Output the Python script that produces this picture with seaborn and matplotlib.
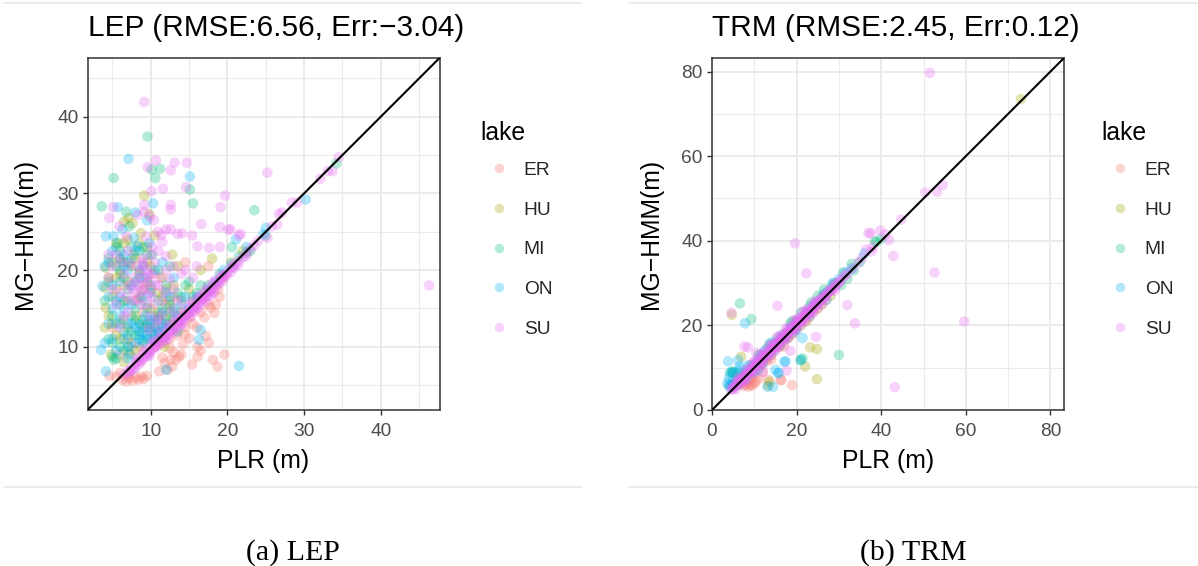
import numpy as np
import pandas as pd
import matplotlib
matplotlib.use("Agg")
import matplotlib.pyplot as plt
from matplotlib.lines import Line2D
import seaborn as sns

LAKES = ["ER", "HU", "MI", "ON", "SU"]
COLORS = ["#F8766D", "#A3A500", "#00BF7D", "#00B0F6", "#E76BF3"]

TITLE_LEP = "LEP (RMSE:6.56, Err:\u22123.04)"
TITLE_TRM = "TRM (RMSE:2.45, Err:0.12)"
CAPTIONS = ["(a) LEP", "(b) TRM"]
XLABEL = "PLR (m)"
YLABEL = "MG\u2212HMM(m)"
LEGEND_TITLE = "lake"

LEP_LIM = (1.75, 47.65)
TRM_LIM = (0.0, 83.2)
LEP_TICKS = [10, 20, 30, 40]
LEP_MINOR = [5, 15, 25, 35, 45]
TRM_TICKS = [0, 20, 40, 60, 80]
TRM_MINOR = [10, 30, 50, 70]

# ---------------- LEP panel (PLR, MG-HMM) ----------------
LEP_ER = [(6.3,5.7),(6.8,5.5),(7.2,5.9),(7.6,5.6),(8.0,6.0),(8.4,5.7),(8.8,6.1),(9.1,5.8),(7.0,6.3),(9.5,6.2),
          (5.5,6.1),(4.6,6.2),(6.0,6.6),(11.1,6.8),(12.2,7.0),(12.8,7.4),(13.3,8.3),(13.7,8.7),(12.6,8.3),(11.8,7.9),
          (11.5,8.6),(14.0,9.0),(13.0,9.3),(15.4,7.7),(16.1,8.7),(16.1,10.0),(17.6,10.5),(18.1,8.3),(18.7,7.4),(19.6,9.0),
          (17.2,11.4),(14.4,11.6),(15.0,11.1),(18.5,15.5),(17.8,15.1),(18.3,14.4),(16.0,12.5),(15.5,13.0),(17.0,13.8),
          (14.2,10.3),(12.5,9.8),(19.0,16.5),(18.8,17.5),(16.5,9.5),(5.0,12.5),(8.0,16.0),(10.5,19.5),(7.2,9.2),
          (12.0,15.5),(9.5,13.0),(6.5,18.0),(14.5,21.0),(17.5,20.5),
          (7.5,10.5),(9.0,14.5),(11.0,14.0),(13.0,16.5),(10.0,17.5),(6.0,9.0),(8.5,10.0),(12.5,13.0),(15.5,16.0),
          (17.0,17.0),(19.5,19.0),(14.0,16.0),(10.5,10.0),(11.5,10.5),(12.5,11.0),(13.5,11.5),(14.5,12.5),(15.0,13.8),
          (16.5,14.5),(17.5,15.5)]
LEP_HU = [(4.1,20.3),(4.0,17.7),(4.1,15.1),(4.5,14.0),(5.0,16.5),(5.5,19.0),(6.0,21.5),(6.5,26.3),(7.1,26.8),(9.15,29.7),
          (7.8,22.0),(8.5,19.5),(9.5,21.0),(10.0,20.5),(10.8,17.0),(11.5,19.0),(12.0,13.5),(9.0,12.5),(7.0,11.0),(5.5,11.5),
          (6.3,13.5),(8.7,24.8),(7.6,26.1),(12.5,16.0),(13.5,20.5),(15.0,17.5),(14.0,14.5),(11.0,11.0),(8.0,9.5),(6.5,8.0),
          (16.5,20.0),(18.0,21.5),(9.8,27.3),(10.5,24.5),(12.8,22.0),(4.8,9.0),(11.8,10.0),(20.5,21.0),(22.0,22.5),
          (4.5,19.0),(5.0,21.0),(5.5,17.5),(6.0,19.5),(6.5,16.0),(7.0,18.5),(7.5,20.5),(8.0,14.0),(8.5,16.5),(9.0,17.5),
          (9.5,18.5),(10.0,15.0),(10.5,12.5),(11.0,14.5),(11.5,16.5),(12.0,17.5),(6.0,11.0),(7.0,12.5),(5.0,13.0),
          (4.0,12.5),(8.0,21.5),(9.5,23.0),(6.5,23.5),(12.5,14.5),(13.0,18.0),
          (5.5,23.5),(7.0,24.0),(8.5,23.5),(6.5,21.0)]
LEP_MI = [(9.58,37.4),(10.1,33.1),(11.2,33.2),(10.6,32.0),(5.15,32.0),(3.6,28.3),(6.8,27.6),(15.1,30.5),(15.5,28.7),
          (23.5,27.8),(20.6,23.0),(34.2,33.9),(7.2,25.7),(5.7,23.5),(5.0,8.7),(5.2,8.3),(6.0,10.0),(6.5,12.0),(7.5,14.0),
          (8.0,11.5),(8.5,13.0),(9.0,10.5),(9.5,15.0),(10.0,12.0),(10.5,14.0),(11.0,16.0),(11.5,12.5),(12.0,18.0),
          (13.0,15.0),(7.0,17.5),(6.0,15.5),(5.0,14.0),(4.5,11.0),(8.5,20.0),(9.0,23.0),(12.5,20.5),(14.5,18.0),
          (15.5,16.5),(13.5,12.0),(16.0,17.0),(17.5,18.0),(19.0,19.5),(21.5,21.8),(22.5,22.3),(23.0,22.5),(25.0,24.5),
          (10.2,22.0),(8.0,18.5),(7.3,9.0),
          (4.0,16.0),(4.5,18.5),(5.5,20.5),(6.0,22.5),(6.5,19.0),(7.0,16.0),(7.5,12.0),(8.0,13.5),(8.5,11.5),(9.0,13.5),
          (9.5,11.0),(10.0,13.0),(10.5,11.5),(11.0,13.5),(11.5,15.0),(12.0,14.0),(12.5,15.5),(13.0,13.5),(14.0,16.5),
          (5.0,10.5),(6.0,13.0),(7.0,10.0),(8.0,15.0),(9.0,16.0),(10.0,18.0),(11.0,20.0),(6.5,9.5),(5.5,8.5),(9.5,22.0),
          (7.5,23.0),(13.5,17.0),(15.0,18.5),(16.5,18.0),
          (4.5,21.5),(5.5,23.0),(7.0,21.0),(8.5,22.5),(6.0,20.0)]
LEP_ON = [(7.1,34.5),(15.1,32.2),(4.15,24.4),(5.15,24.4),(3.7,17.9),(3.5,9.6),(4.15,6.8),(21.5,7.5),(12.0,7.0),
          (16.5,12.2),(16.3,10.9),(30.2,29.2),(21.1,24.0),(25.0,25.5),(24.7,24.7),(6.3,25.3),(7.8,24.2),(9.8,23.5),
          (8.3,23.1),(10.3,28.7),(5.7,28.2),(5.0,18.0),(5.5,16.0),(6.0,14.0),(6.5,11.0),(7.0,13.0),(7.5,15.5),(8.0,12.5),
          (8.5,11.0),(9.0,11.8),(9.5,12.5),(10.0,11.0),(10.5,13.5),(11.0,12.0),(11.5,14.5),(12.0,13.0),(8.8,16.5),
          (9.3,19.0),(7.0,20.0),(6.0,21.5),(4.5,13.0),(5.5,9.5),(7.2,10.0),(10.0,17.0),(12.5,16.5),(13.5,14.0),
          (14.0,15.5),(15.0,15.0),(16.0,16.5),(17.5,17.5),(18.5,18.5),(11.5,21.0),(13.0,19.0),(19.5,20.0),(20.5,20.8),
          (22.5,23.0),(8.0,27.5),(9.5,26.5),
          (4.0,20.5),(4.5,16.5),(5.0,15.0),(5.5,13.0),(6.0,18.5),(6.5,15.0),(7.0,11.5),(7.5,13.0),(8.0,10.5),(8.5,12.0),
          (9.0,10.8),(9.5,11.5),(10.0,12.5),(10.5,11.0),(11.0,11.8),(11.5,13.0),(12.0,12.5),(9.8,13.5),(10.8,12.2),
          (8.7,12.8),(9.3,14.0),(6.0,16.5),(7.5,18.0),(8.5,19.0),(5.0,11.0),(4.0,10.5),(7.0,8.5),(13.0,14.5),(14.5,16.5),
          (12.0,17.0),(10.5,20.0),(8.0,22.5),(6.5,22.0),
          (5.0,22.5),(6.5,20.5),(7.5,21.5),(9.0,20.5),(4.5,21.0)]
LEP_SU = [(9.15,41.9),(10.67,34.3),(9.6,33.4),(13.1,34.0),(14.7,34.0),(12.6,33.0),(11.6,30.6),(10.1,30.3),(14.6,30.8),
          (19.7,29.7),(19.1,28.2),(25.2,32.7),(5.1,28.2),(4.6,26.8),(9.15,28.5),(9.15,27.6),(12.6,28.5),(12.6,27.9),
          (8.3,27.2),(16.6,26.0),(19.0,25.6),(20.1,25.3),(21.5,24.5),(13.5,24.7),(14.1,24.8),(15.4,24.5),(12.0,25.3),
          (11.4,24.6),(12.6,25.3),(16.1,23.1),(17.6,22.9),(19.0,23.0),(5.9,25.7),(6.8,24.4),(9.4,24.4),(10.9,25.0),
          (11.5,23.7),(10.2,23.1),(46.3,18.0),(34.5,34.7),(33.7,32.9),(33.1,32.9),(32.1,31.9),(28.4,28.8),(29.1,28.8),
          (27.1,27.5),(26.7,27.3),(26.5,25.95),(25.8,25.7),(25.2,24.2),(21.7,24.7),(20.4,25.3),(10.4,26.5),(9.9,27.0),
          (8.0,17.0),(8.5,18.0),(9.0,19.0),(9.5,20.0),(8.2,20.5),(9.2,17.5),(9.8,18.5),(10.2,16.5),(8.7,15.5),(7.8,19.0),
          (10.5,21.0),(9.0,21.5),(7.5,16.0),(11.0,18.0),(11.5,16.0),(12.0,20.0),(6.5,19.5),(6.0,17.0),(5.5,22.0),
          (7.0,22.5),(13.0,17.5),(14.0,19.5),(10.0,14.0),(11.0,13.5),(7.0,14.5),(6.0,12.5),(5.0,20.5),(4.5,22.0),
          (6.5,6.3),(7.0,6.8),(7.5,7.2),(8.0,7.8),(8.5,8.2),(9.0,8.6),(9.5,9.2),(10.0,9.6),(10.5,10.1),(11.0,10.5),
          (11.5,11.1),(12.0,11.6),(12.5,12.0),(13.0,12.5),(13.5,13.1),(14.0,13.5),(14.5,14.0),(15.0,14.6),(15.5,15.0),
          (16.0,15.6),(16.5,16.0),(17.0,16.6),(17.5,17.1),(18.0,17.6),(18.5,18.1),(19.0,18.7),(19.5,19.2),(20.0,19.8),
          (20.5,20.3),(21.0,20.8),(22.0,21.7),(23.0,22.8),(24.0,23.8),(8.3,8.6),(9.3,9.7),(10.3,10.8),(11.3,11.8),
          (12.3,12.8),(13.3,13.8),(14.3,14.8),(15.3,15.8),(16.3,16.7),(17.3,17.7),(18.3,18.6),(7.8,7.0),(9.8,8.8),
          (11.8,10.8),(13.8,12.7),(15.8,14.6),(17.8,16.7),
          (8.3,16.2),(8.8,17.2),(9.3,18.2),(9.7,19.3),(8.6,19.8),(9.1,20.6),(8.1,18.3),(9.6,16.8),(10.1,19.5),(10.6,18.0),
          (7.6,17.5),(8.9,21.0),(9.4,15.5),(10.4,15.5),(7.2,18.0),(6.8,16.5),(11.2,19.0),(11.8,17.2),(12.5,18.8),
          (13.5,16.0),(12.8,14.8),(11.5,14.2),(10.8,13.0),(9.8,12.2),(6.5,14.0),(5.5,15.5),(5.0,17.5),(4.5,19.0),
          (6.2,21.0),(7.3,20.8),(10.0,22.0),(11.0,22.5),(12.0,21.8),(13.0,20.5),(14.5,20.0),(15.5,19.0),(16.0,20.5),
          (7.3,6.9),(8.7,8.0),(9.7,9.0),(10.7,10.0),(11.7,11.3),(12.7,12.2),(13.7,13.2),(14.7,14.2),(15.7,15.2),
          (16.7,16.2),(17.7,17.3),(18.7,18.2),(19.7,19.4),(20.7,20.5),(21.5,21.2),(22.5,22.2),(23.5,23.2),(9.1,9.3),
          (10.1,10.4),(11.1,11.2),(12.1,12.3),(13.1,13.3),(14.1,14.2),(15.1,15.3),(16.1,16.3),(17.1,17.2),(18.1,18.3),
          (19.1,19.3),(12.2,11.0),(14.2,13.0),(16.2,15.0),(18.2,17.0),(13.2,11.9),(15.2,13.9),(17.2,15.9),
          (7.2,6.6),(7.9,7.3),(8.4,7.7),(8.9,8.3),(9.4,8.7),(9.9,9.3),(10.4,9.7),(10.9,10.2),(11.4,10.6),(11.9,11.2),
          (12.4,11.6),(12.9,12.2),(13.4,12.6),(13.9,13.2),(14.4,13.6),(14.9,14.2),(15.4,14.6),(15.9,15.2),(16.4,15.6),
          (16.9,16.2),(17.4,16.6),(17.9,17.2),(18.4,17.6),(18.9,18.2),(19.4,18.6),(19.9,19.3),(20.4,19.7),(20.9,20.3),
          (21.4,20.7),(22.4,21.8),(8.1,8.1),(10.6,10.6),(13.6,13.5),(16.6,16.5),(19.2,19.0)]

# ---------------- TRM panel (PLR, MG-HMM) ----------------
TRM_ER = [(8.6,5.5),(9.0,6.0),(9.5,5.8),(10.0,6.3),(8.0,6.0),(7.5,5.7),(10.5,6.8),(16.2,7.1),(18.9,5.9),(13.3,7.1),
          (16.4,7.1),(11.0,7.5),(12.0,9.0),(14.0,12.0),(9.0,7.5),(7.0,6.5),(15.0,14.5),(12.5,12.0),(18.0,17.5),
          (20.0,19.5),(6.5,6.0),(11.5,10.5),(5.5,5.8),(8.5,7.0),(10.0,8.0),(13.0,11.5),(16.0,15.5),(17.0,15.0)]
TRM_HU = [(73.0,73.5),(4.7,22.5),(23.2,14.8),(24.8,14.4),(22.0,10.3),(24.8,7.3),(13.6,6.7),(6.9,12.6),(13.3,5.8),
          (22.3,21.0),(25.0,24.0),(18.0,17.0),(15.0,15.5),(12.0,11.5),(10.0,10.5),(20.0,21.0),(27.0,27.5),(8.0,8.5),
          (17.0,16.5),(26.0,25.0),(14.0,13.0),(21.0,20.0),(9.0,8.5),(11.0,10.5),(13.0,12.5),(16.0,15.0),(19.0,18.0),
          (23.0,22.0),(24.0,23.5),(28.0,27.0),(6.0,7.0)]
TRM_MI = [(6.6,25.2),(9.3,21.5),(30.0,13.0),(20.9,11.8),(21.4,12.2),(4.2,8.7),(4.8,9.0),(38.5,39.8),(38.9,39.8),
          (30.5,29.5),(32.0,31.0),(33.5,33.0),(28.0,28.5),(26.0,26.8),(24.5,25.0),(22.0,22.5),(20.0,19.0),(18.0,18.5),
          (16.0,16.5),(14.0,14.8),(12.0,12.5),(10.0,10.8),(8.0,8.8),(6.0,6.5),(4.0,5.8),(13.0,14.5),(17.0,18.0),
          (25.0,27.0),(29.0,30.0),(35.0,35.0),(40.0,40.5),(11.0,13.0),(23.0,24.5),(27.0,26.0),(19.0,21.0),
          (5.0,6.0),(7.0,8.0),(9.0,10.5),(11.5,13.0),(13.5,15.5),(15.5,17.0),(18.5,20.5),(21.0,23.0),(23.5,25.5),
          (26.5,28.5),(28.5,29.5),(31.0,32.5),(33.0,34.5),(6.0,8.8),(5.0,9.0)]
TRM_ON = [(7.8,20.5),(3.8,11.5),(6.2,11.8),(6.5,10.3),(5.0,8.7),(3.6,6.3),(4.2,5.5),(13.1,5.5),(14.4,5.5),(21.0,11.8),
          (17.4,11.5),(15.6,8.7),(15.0,9.5),(21.4,17.0),(15.8,8.8),(17.1,11.4),(4.5,6.0),(5.5,6.5),(6.5,7.5),(7.5,8.5),
          (9.0,9.5),(10.5,11.0),(12.0,12.8),(13.5,13.5),(15.0,15.8),(16.5,17.2),(18.5,19.0),(20.0,20.8),(22.5,23.0),
          (24.0,24.5),(26.5,27.5),(30.0,31.0),(31.5,32.5),(12.5,14.0),(19.5,18.5),(5.0,5.5),(8.5,10.5),(11.0,9.5),
          (36.0,37.0),(14.0,16.0),
          (4.0,7.5),(5.0,7.0),(6.0,6.0),(7.0,7.5),(8.0,7.5),(9.5,10.0),(11.0,12.0),(13.0,13.0),(14.5,14.0),(16.0,15.5),
          (17.5,17.0),(19.0,19.5),(21.0,21.0),(23.0,22.5),(25.0,25.5),(27.5,28.0),(10.0,9.0),(12.0,11.0),(28.5,30.0),
          (33.0,33.5),(4.5,9.0),(6.5,9.5)]
TRM_SU = [(51.5,79.7),(19.6,39.4),(22.3,32.3),(15.5,24.6),(32.0,24.8),(33.8,20.5),(24.6,17.3),(7.7,15.0),(8.5,14.8),
          (17.6,9.3),(43.2,5.4),(59.6,20.9),(50.4,51.4),(53.2,51.6),(54.5,53.2),(44.7,45.0),(37.0,41.8),(39.8,42.4),
          (41.8,40.2),(42.9,36.4),(52.6,32.5),(37.5,41.8),(36.5,37.9),(37.7,37.5),(4.6,23.0),(41.0,41.5),(38.0,38.5),
          (18.5,14.0),(12.0,9.0),(10.5,13.5),
          (4.5,4.8),(5.2,5.5),(5.8,6.0),(6.4,6.8),(7.0,7.2),(7.6,7.9),(8.2,8.4),(8.8,9.1),(9.4,9.6),(10.0,10.3),
          (10.6,10.8),(11.2,11.5),(11.8,12.0),(12.4,12.7),(13.0,13.2),(13.6,13.9),(14.2,14.4),(14.8,15.1),(15.4,15.6),
          (16.0,16.3),(16.6,16.8),(17.2,17.5),(17.8,18.0),(18.4,18.7),(19.0,19.2),(19.6,19.9),(20.2,20.4),(20.8,21.1),
          (21.4,21.6),(22.0,22.3),(22.6,22.8),(23.2,23.5),(23.8,24.0),(24.4,24.7),(25.0,25.2),(25.7,25.9),(26.4,26.7),
          (27.1,27.3),(27.8,28.1),(28.6,28.8),(29.4,29.6),(30.2,30.5),(31.0,31.3),(32.0,32.2),(33.2,33.4),(34.5,34.8),
          (35.5,36.0),(6.0,7.2),(8.0,9.3),(10.0,11.5),(12.0,13.4),(14.0,15.3),(16.0,17.4),(18.0,19.3),(20.0,21.3),
          (22.0,23.4),(24.0,25.2),(7.0,6.2),(9.0,8.2),(11.0,10.0),(13.0,12.1),(15.0,14.0),(17.0,16.0),(19.0,18.0),
          (21.0,20.1),(23.0,22.0),(25.0,24.1),(27.0,26.0),(29.0,28.2),
          (4.8,5.3),(5.5,6.1),(6.2,6.5),(6.8,7.4),(7.4,7.6),(8.0,8.5),(8.6,8.8),(9.2,9.8),(9.8,10.0),(10.4,10.9),
          (11.0,11.2),(11.6,12.2),(12.2,12.4),(12.8,13.4),(13.4,13.6),(14.0,14.6),(14.6,14.8),(15.2,15.9),(15.8,16.0),
          (16.4,17.0),(17.0,17.2),(17.6,18.3),(18.2,18.4),(18.8,19.4),(19.4,19.6),(20.0,20.7),(20.6,20.8),(21.2,21.9),
          (21.8,22.0),(22.4,23.1),(23.0,23.2),(23.6,24.3),(24.2,24.4),(24.8,25.6),(25.4,25.6),(26.0,26.8),(26.8,27.0),
          (27.5,28.2),(28.2,28.5),(29.0,29.8),(30.0,30.2),(31.5,31.9),(13.5,15.2),(15.5,17.3),(17.5,19.2),(19.5,21.2),
          (21.5,23.2),(9.5,11.0),(11.5,13.0),(8.0,6.8),(10.0,9.0),(12.0,11.0),(14.0,13.0),(16.0,15.0),(18.0,17.0),
          (20.0,19.0),(22.0,21.0),(24.0,23.0),(26.0,25.0),
          (5.0,5.0),(6.0,6.1),(7.0,7.0),(8.0,8.1),(9.0,9.0),(10.0,10.1),(11.0,11.0),(12.0,12.1),(13.0,13.0),(14.0,14.1),
          (15.0,15.0),(16.0,16.1),(17.0,17.0),(18.0,18.1),(19.0,19.0),(20.0,20.1),(21.0,21.0),(22.0,22.1),(23.0,23.0),
          (24.0,24.1),(25.0,25.0),(26.0,26.1),(27.0,27.0),(28.0,28.1),(29.0,29.0),(30.0,30.1),(5.5,4.9),(7.5,6.9),
          (9.5,8.9),(11.5,10.9),(13.5,12.9),(15.5,14.9),(17.5,16.9),(19.5,18.9),(21.5,20.9),(23.5,22.9),(6.5,7.8),
          (8.5,9.8),(10.5,11.8),(12.5,13.8),(14.5,15.8),(16.5,17.8),(18.5,19.8),(20.5,21.8),(22.5,23.8),(24.5,25.8)]

LEP_DATA = [LEP_ER, LEP_HU, LEP_MI, LEP_ON, LEP_SU]
TRM_DATA = [TRM_ER, TRM_HU, TRM_MI, TRM_ON, TRM_SU]


def make_df(groups):
    rows = []
    for lake, pts in zip(LAKES, groups):
        for x, y in pts:
            rows.append({"PLR": x, "MGHMM": y, "lake": lake})
    return pd.DataFrame(rows)


sns.set_theme(style="white")
plt.rcParams["font.family"] = ["Liberation Sans", "DejaVu Sans"]

W, H = 1198, 566
fig = plt.figure(figsize=(W / 100, H / 100), dpi=100)
fig.patch.set_facecolor("white")

palette = dict(zip(LAKES, COLORS))
PANEL = 352

panels = [
    dict(left=87.5, data=LEP_DATA, lim=LEP_LIM, ticks=LEP_TICKS, minor=LEP_MINOR, title=TITLE_LEP,
         cap=CAPTIONS[0], capx=292.5, box=(4, 581), ylx=-0.178, legx=480.0),
    dict(left=712.0, data=TRM_DATA, lim=TRM_LIM, ticks=TRM_TICKS, minor=TRM_MINOR, title=TITLE_TRM,
         cap=CAPTIONS[1], capx=913.5, box=(629, 1198), ylx=-0.173, legx=1101.0),
]

for p in panels:
    ax = fig.add_axes([p["left"] / W, (H - 410) / H, PANEL / W, PANEL / H])
    df = make_df(p["data"])
    sns.scatterplot(data=df, x="PLR", y="MGHMM", hue="lake", hue_order=LAKES, palette=palette,
                    alpha=0.3, s=58, linewidth=0, legend=False, ax=ax, zorder=3)
    ax.axline((0, 0), slope=1, color="black", lw=1.5, zorder=4)
    ax.set_xlim(*p["lim"])
    ax.set_ylim(*p["lim"])
    ax.set_xticks(p["ticks"])
    ax.set_yticks(p["ticks"])
    ax.set_xticks(p["minor"], minor=True)
    ax.set_yticks(p["minor"], minor=True)
    ax.grid(which="major", color="#EBEBEB", lw=1.4, zorder=0)
    ax.grid(which="minor", color="#EBEBEB", lw=0.75, zorder=0)
    ax.set_axisbelow(True)
    ax.tick_params(which="major", length=3.6, width=1.0, color="#333333", labelsize=13.8,
                   labelcolor="#4D4D4D", bottom=True, left=True)
    ax.tick_params(axis="x", which="major", pad=5.5)
    ax.tick_params(axis="y", which="major", pad=3.0)
    ax.tick_params(which="minor", length=0)
    for s in ax.spines.values():
        s.set_color("#333333")
        s.set_linewidth(1.1)
    ax.set_xlabel(XLABEL, fontsize=17.8, color="black")
    ax.set_ylabel(YLABEL, fontsize=17.8, color="black")
    ax.xaxis.set_label_coords(0.5, (410 - 468) / PANEL)
    ax.xaxis.label.set_va("baseline")
    ax.yaxis.set_label_coords(p["ylx"], 0.5)
    ax.yaxis.label.set_va("center")

    fig.text(p["left"] / W, (H - 36) / H, p["title"], fontsize=21.4, ha="left", va="baseline", color="black")

    fig.text(p["legx"] / W, (H - 133) / H, LEGEND_TITLE, fontsize=17.8, ha="left", va="center", color="black")
    handles = [Line2D([], [], marker="o", linestyle="", markersize=6.9, markerfacecolor=c,
                      markeredgewidth=0, alpha=0.3) for c in COLORS]
    ax.legend(handles, LAKES, loc="upper left",
              bbox_to_anchor=((p["legx"] - 10) / W, (H - 152) / H),
              bbox_transform=fig.transFigure, frameon=False, fontsize=13.8,
              borderpad=0, handlelength=2.0, handletextpad=0.3, labelspacing=1.16)

    fig.text(p["capx"] / W, (H - 560) / H, p["cap"], fontsize=21.5, ha="center", va="baseline",
             family=["Liberation Serif", "DejaVu Serif"], color="black")

    for yy in (2.5, 486.5):
        fig.add_artist(Line2D([p["box"][0] / W, p["box"][1] / W], [(H - yy) / H, (H - yy) / H],
                              transform=fig.transFigure, color="#E6E6E6", lw=1.1))

fig.savefig("out.png", dpi=100, facecolor="white")
